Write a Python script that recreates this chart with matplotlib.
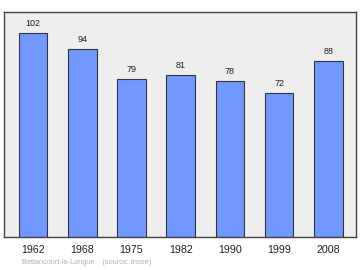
import matplotlib
matplotlib.use("Agg")
import matplotlib.pyplot as plt

plt.rcParams['font.family'] = ['Liberation Sans', 'DejaVu Sans']

years = ["1962", "1968", "1975", "1982", "1990", "1999", "2008"]
population = [102, 94, 79, 81, 78, 72, 88]
caption = "Bettancourt-la-Longue    (source: Insee)"

fig = plt.figure(figsize=(3.6, 2.7), dpi=100)
W, H = 360, 270
ax = fig.add_axes([4 / W, 1 - 237 / H, 352 / W, 225 / H])
ax.set_facecolor("#eeeeee")
x = list(range(len(years)))
ax.bar(x, population, width=0.58, color="#7098ff", edgecolor="#333344", linewidth=0.8, zorder=2)
for xi, v in zip(x, population):
    ax.text(xi, v + 3.2, str(v), ha="center", va="baseline", fontsize=6.5, color="#222222")
ax.set_xlim(-0.589, 6.56)
ax.set_ylim(0, 112.3)
ax.set_yticks([])
ax.set_xticks(x)
ax.set_xticklabels(years, fontsize=7.7, color="#222222")
ax.tick_params(axis="x", length=0, pad=6)
for s in ax.spines.values():
    s.set_color("#444444")
    s.set_linewidth(1.0)
fig.text(21.5 / W, 1 - 263 / H, caption, fontsize=5.3, color="#b0b0b0", va="center", ha="left")
fig.savefig("out.png", dpi=100)
